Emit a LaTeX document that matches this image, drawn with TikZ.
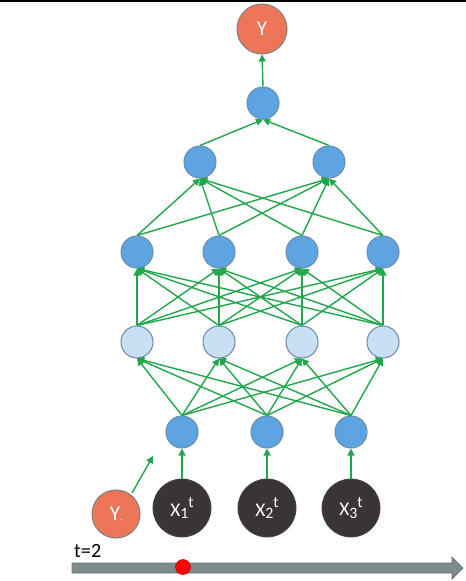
\documentclass[tikz,border=0pt]{standalone}
\usepackage{fontspec}
\setmainfont{Carlito}
\usetikzlibrary{arrows.meta}
\definecolor{salmon}{HTML}{EC7657}
\definecolor{nodeblue}{HTML}{5DA5E2}
\definecolor{paleblue}{HTML}{C9E0F4}
\definecolor{rimblue}{HTML}{6E8CAE}
\definecolor{charcoal}{HTML}{3A3534}
\definecolor{linkgreen}{HTML}{22A64B}
\definecolor{bargrey}{HTML}{7F8A8E}

\tikzset{
  neuron/.style={circle, draw=rimblue, line width=0.6pt, fill=nodeblue,
    minimum size=0.64cm, inner sep=0pt},
  paleneuron/.style={neuron, fill=paleblue},
  outneuron/.style={circle, draw=gray, line width=0.6pt, fill=salmon,
    minimum size=1cm, inner sep=0pt, text=white, font=\fontsize{12}{14}\selectfont},
  feature/.style={circle, draw=charcoal!80!gray, line width=0.5pt, fill=charcoal,
    minimum size=1.16cm, inner sep=0pt, text=white, font=\fontsize{11}{13}\selectfont},
  link/.style={linkgreen, line width=0.8pt, -{Triangle[length=4pt,width=4pt]}}
}

\begin{document}
\begin{tikzpicture}[x=0.02cm, y=-0.02cm]
  \useasboundingbox (0,0) rectangle (466,581);
  \fill[black] (0,0) rectangle (466,2);

  % ── Output ──
  \node[outneuron] (out) at (262,29) {Y};
  \node[neuron] (top) at (263,103) {};

  % ── Hidden layers ──
  \node[neuron] (hb1) at (200,162) {};
  \node[neuron] (hb2) at (329,162) {};

  \foreach \x [count=\i] in {137,219,302,383} {
    \node[neuron] (hc\i) at (\x,252) {};
    \node[paleneuron] (hd\i) at (\x,342) {};
  }

  % ── Inputs ──
  \foreach \x [count=\i] in {182,267,351} {
    \node[neuron] (he\i) at (\x,432) {};
    \node[feature] (x\i) at (\x,508) {X\raisebox{-0.25ex}{\small\i}\raisebox{0.9ex}{\small t}};
  }
  \node[outneuron, minimum size=0.96cm] (yprev) at (116,514) {Y{\tiny.}};

  % ── Connections ──
  \draw[link] (top.north) -- (out.south);
  \foreach \b in {1,2}
    \draw[link] (hb\b.north) -- (top.south);
  \foreach \c in {1,...,4} {
    \foreach \b in {1,2}
      \draw[link] (hc\c.north) -- (hb\b.south);
    \foreach \d in {1,...,4}
      \draw[link] (hd\d.north) -- (hc\c.south);
  }
  \foreach \e in {1,2,3} {
    \draw[link] (x\e.north) -- (he\e.south);
    \foreach \d in {1,...,4}
      \draw[link] (he\e.north) -- (hd\d.south);
  }
  \coordinate (feedtip) at (153,456);
  \draw[link, shorten <=1pt] (yprev.52) -- (feedtip);

  % ── Time line ──
  \node[font=\fontsize{11.5}{13}\selectfont, anchor=west] (tlabel) at (68,551) {t=2};
  \draw[bargrey!80!black, fill=bargrey, line width=0.4pt]
    (72,563) -- (452,563) -- (452,557) -- (463,568) -- (452,579) -- (452,573) -- (72,573) -- cycle;
  \fill[red, draw=red!70!black, line width=0.3pt] (183,567) circle (0.15cm);

\end{tikzpicture}
\end{document}
